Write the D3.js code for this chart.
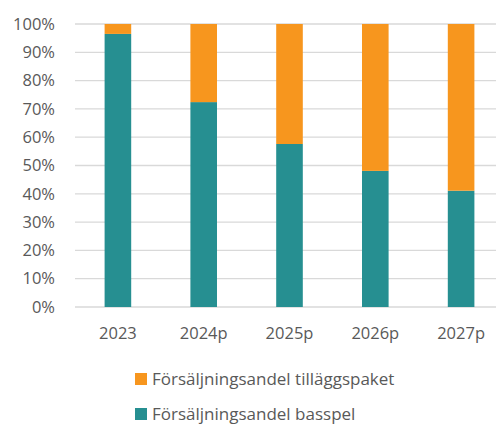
<!DOCTYPE html>
<html><head><meta charset="utf-8">
<script src="https://cdn.jsdelivr.net/npm/d3@7"></script>
<style>body{margin:0;background:#fff}svg{display:block}</style>
</head><body>
<script>
const categories = ["2023","2024p","2025p","2026p","2027p"];
const basspel = [0.965, 0.724, 0.576, 0.481, 0.411];
const tillagg = [0.035, 0.276, 0.424, 0.519, 0.589];
const seriesNames = ["Försäljningsandel tilläggspaket","Försäljningsandel basspel"];
const yTicks = [0,0.1,0.2,0.3,0.4,0.5,0.6,0.7,0.8,0.9,1];

const W=496,H=425;
const colors={bas:"#268f91",till:"#f7961e"};
const font="'Open Sans', 'Noto Sans', sans-serif";
const svg=d3.select("body").append("svg").attr("width",W).attr("height",H);
const x=d3.scaleBand().domain(categories).range([75,504]).paddingInner(0.69).paddingOuter(0.345);
const y=d3.scaleLinear().domain([0,1]).range([307,24]);

svg.append("g").selectAll("line").data(yTicks).join("line")
 .attr("x1",75).attr("x2",W).attr("y1",d=>y(d)).attr("y2",d=>y(d))
 .attr("stroke","#d9d9d9").attr("stroke-width",1.3);

svg.append("g").selectAll("text").data(yTicks).join("text")
 .attr("x",55).attr("y",d=>y(d)).attr("dy","0.35em").attr("text-anchor","end")
 .attr("font-family",font).attr("font-size",16.5).attr("fill","#595959")
 .text(d=>d3.format(".0%")(d));

const stack=categories.map((c,i)=>({c,b:basspel[i],t:tillagg[i]}));
svg.append("g").selectAll("rect").data(stack).join("rect")
 .attr("x",d=>x(d.c)).attr("width",x.bandwidth())
 .attr("y",d=>y(d.b)).attr("height",d=>y(0)-y(d.b)).attr("fill",colors.bas);
svg.append("g").selectAll("rect").data(stack).join("rect")
 .attr("x",d=>x(d.c)).attr("width",x.bandwidth())
 .attr("y",d=>y(d.b+d.t)).attr("height",d=>y(d.b)-y(d.b+d.t)).attr("fill",colors.till);

svg.append("g").selectAll("text").data(categories).join("text")
 .attr("x",d=>x(d)+x.bandwidth()/2).attr("y",333).attr("dy","0.35em").attr("text-anchor","middle")
 .attr("font-family",font).attr("font-size",16.5).attr("fill","#595959").text(d=>d);

const leg=[{n:seriesNames[0],c:colors.till,y:379},{n:seriesNames[1],c:colors.bas,y:414}];
const lg=svg.append("g").selectAll("g").data(leg).join("g");
lg.append("rect").attr("x",135).attr("y",d=>d.y-6).attr("width",12).attr("height",12).attr("fill",d=>d.c);
lg.append("text").attr("x",152).attr("y",d=>d.y).attr("dy","0.35em")
 .attr("font-family",font).attr("font-size",17).attr("fill","#595959").text(d=>d.n);
</script>
</body></html>
